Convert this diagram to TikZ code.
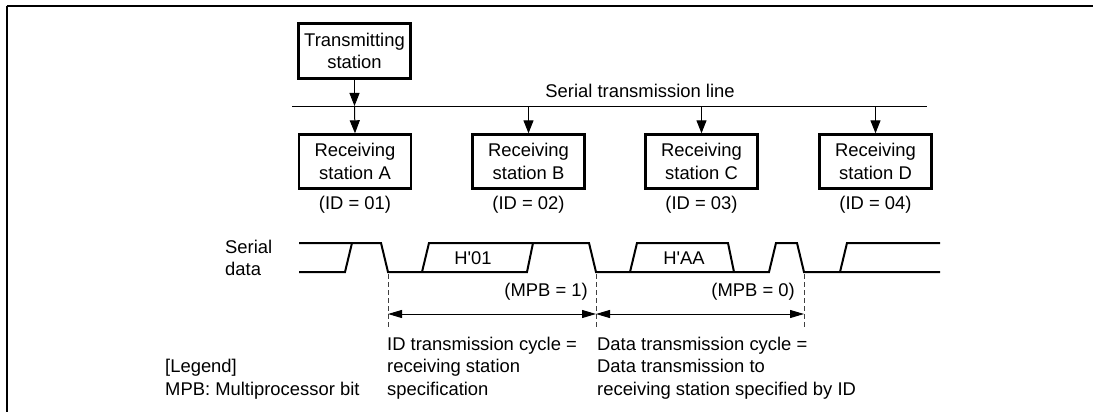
\documentclass[tikz,border=0pt]{standalone}
\usepackage{fontspec}
\setmainfont{Liberation Sans}[Ligatures=TeXOff]
\usetikzlibrary{arrows.meta}
\begin{document}
\begin{tikzpicture}[x=1pt,y=-1pt,
  every node/.style={font=\fontsize{18.4}{22.5}\selectfont, inner sep=0pt},
  box/.style={draw, line width=2.4pt, minimum width=112pt, minimum height=54pt, align=center},
  lbl/.style={align=left, anchor=north west},
  frame/.style={line width=2pt},
  bus/.style={line width=1pt},
  arr/.style={line width=1pt, -{Triangle[length=13pt,width=10pt]}},
  dbl/.style={line width=1pt, {Triangle[length=14pt,width=8pt]}-{Triangle[length=14pt,width=8pt]}},
  wave/.style={line width=2pt, line join=miter},
  guide/.style={line width=1pt, dash pattern=on 5pt off 3pt, black!75}]
\useasboundingbox (0,0) rectangle (1093,412);
% frame (top and left only)
\draw[frame] (6.5,6) -- (1093,6);
\draw[frame] (6.5,6) -- (6.5,412);

% stations
\node[box, minimum width=112pt, minimum height=55pt] (tx) at (354.5,51) {Transmitting\\station};
\node[box] (rA) at (355,161.5) {Receiving\\station A};
\node[box] (rB) at (528.5,161.5) {Receiving\\station B};
\node[box] (rC) at (701.5,161.5) {Receiving\\station C};
\node[box] (rD) at (875.5,161.5) {Receiving\\station D};

\node (idA) at (355,205) {(ID = 01)};
\node (idB) at (528.5,205) {(ID = 02)};
\node (idC) at (701.5,205) {(ID = 03)};
\node (idD) at (875.5,205) {(ID = 04)};

% serial transmission line
\coordinate (lineL) at (292,106);
\coordinate (lineR) at (927,106);
\draw[bus] (lineL) -- (lineR);
\node (linelbl) at (640,91) {Serial transmission line};
\coordinate (tap) at (tx.south |- lineL);
\draw[arr] (tx.south) -- (tap);
\draw[arr] (tap) -- (rA.north);
\draw[arr] (rB.north |- lineL) -- (rB.north);
\draw[arr] (rC.north |- lineL) -- (rC.north);
\draw[arr] (rD.north |- lineL) -- (rD.north);

% serial data waveform
\node[lbl] (sd) at (225,239.5) {Serial\\data};
\draw[wave] (299,243) -- (381,243) -- (388,272) -- (527,272) -- (533,243) -- (589,243) -- (596,272)
  -- (769,272) -- (776,243) -- (797,243) -- (804,272) -- (940,272);
\draw[wave] (299,272) -- (345,272) -- (352,243);
\draw[wave] (422,272) -- (429,243) -- (533,243);
\draw[wave] (630,272) -- (637,243) -- (728,243) -- (734,272);
\draw[wave] (840,272) -- (847,243) -- (940,243);
\node (h01) at (473,258) {H'01};
\node (hAA) at (684,258) {H'AA};

% cycle markers
\coordinate (d1t) at (388,274); \coordinate (d1b) at (388,327);
\coordinate (d2t) at (596,274); \coordinate (d2b) at (596,327);
\coordinate (d3t) at (804,274); \coordinate (d3b) at (804,327);
\draw[guide] (d1t) -- (d1b);
\draw[guide] (d2t) -- (d2b);
\draw[guide] (d3t) -- (d3b);
\coordinate (a1) at (388,314);
\coordinate (a2) at (596,314);
\coordinate (a3) at (804,314);
\draw[dbl] (a1) -- (a2);
\draw[dbl] (a2) -- (a3);
\node[anchor=east] (mpb1) at (588,292) {(MPB = 1)};
\node[anchor=east] (mpb0) at (795,292) {(MPB = 0)};

% explanations
\node[lbl] (idc) at (387,336.5) {ID transmission cycle =\\receiving station\\specification};
\node[lbl] (dc) at (597,336.5) {Data transmission cycle =\\Data transmission to\\receiving station specified by ID};
\node[lbl] (leg) at (165,359) {[Legend]\\MPB: Multiprocessor bit};
\end{tikzpicture}
\end{document}
